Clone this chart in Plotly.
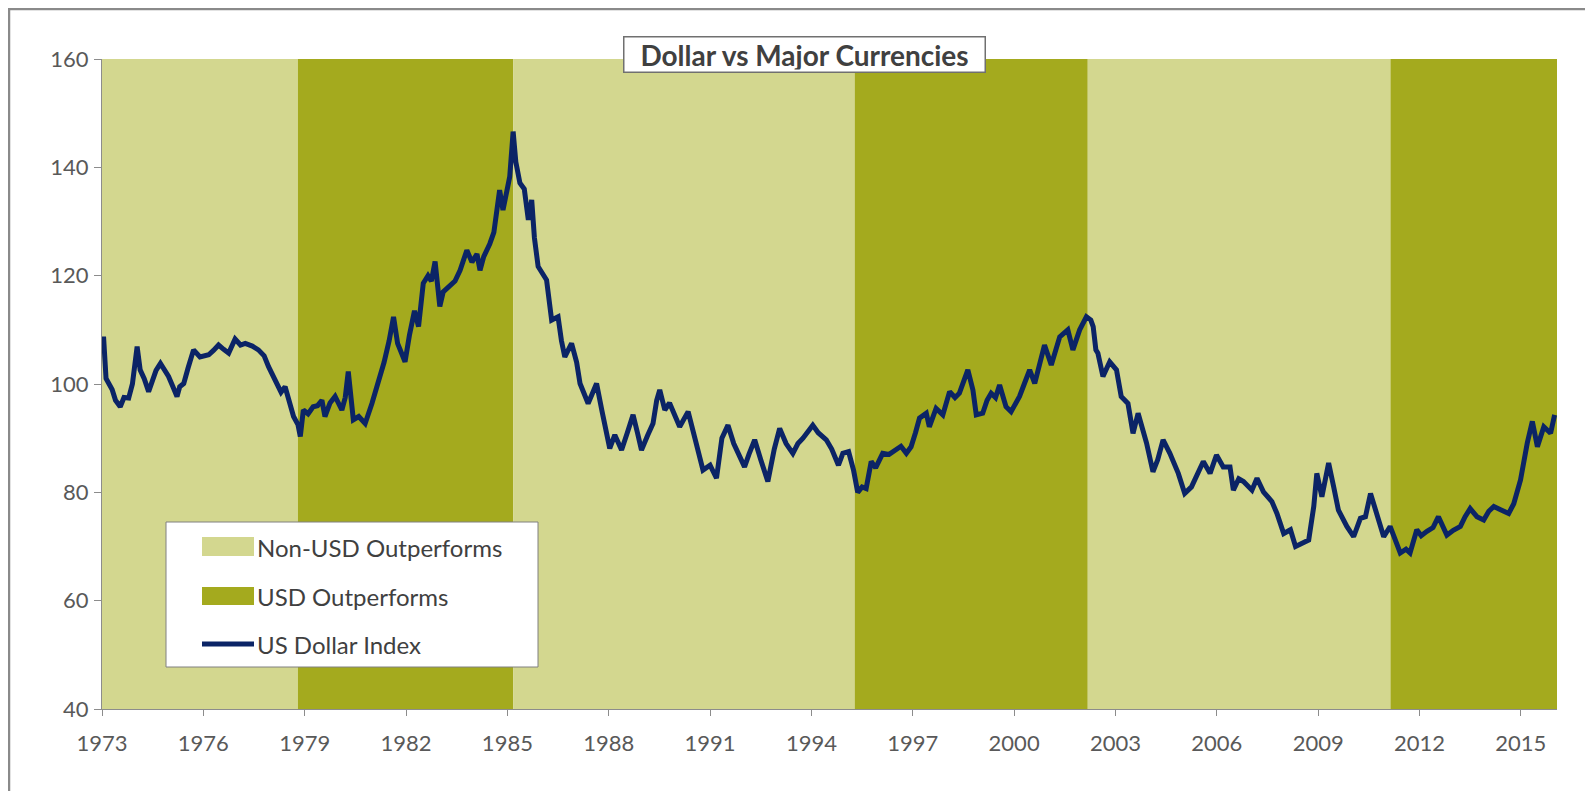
import plotly.graph_objects as go

# ---- data ----
band_start = [1973.0, 1978.8, 1985.17, 1995.28, 2002.18, 2011.14]
band_end = [1978.8, 1985.17, 1995.28, 2002.18, 2011.14, 2016.07]
band_kind = ["Non-USD Outperforms", "USD Outperforms", "Non-USD Outperforms",
             "USD Outperforms", "Non-USD Outperforms", "USD Outperforms"]

years = [1973.00, 1973.05, 1973.12, 1973.2, 1973.3, 1973.4, 1973.54, 1973.65, 1973.79, 1973.9,
         1974.04, 1974.13, 1974.25, 1974.38, 1974.5, 1974.6, 1974.73, 1974.85, 1974.97,
         1975.1, 1975.22, 1975.3, 1975.42, 1975.55, 1975.71, 1975.9,
         1976.16, 1976.3, 1976.45, 1976.6, 1976.75, 1976.94,
         1977.1, 1977.24, 1977.45, 1977.63, 1977.8, 1977.93,
         1978.05, 1978.18, 1978.3, 1978.42, 1978.55, 1978.67, 1978.8, 1978.87, 1978.96,
         1979.1, 1979.25, 1979.38, 1979.51, 1979.6, 1979.75, 1979.9,
         1980.1, 1980.2, 1980.29, 1980.44, 1980.6, 1980.79, 1980.99,
         1981.18, 1981.35, 1981.5, 1981.63, 1981.75, 1981.85, 1981.97,
         1982.1, 1982.25, 1982.37, 1982.45, 1982.51, 1982.65, 1982.75, 1982.86,
         1983.0, 1983.1, 1983.3, 1983.45, 1983.6, 1983.8, 1983.95,
         1984.1, 1984.19, 1984.3, 1984.48, 1984.6, 1984.77, 1984.87,
         1985.07, 1985.17, 1985.25, 1985.37, 1985.5, 1985.62, 1985.72, 1985.8, 1985.91,
         1986.05, 1986.16, 1986.31, 1986.5, 1986.6, 1986.7, 1986.9,
         1987.05, 1987.15, 1987.39, 1987.5, 1987.64, 1987.8,
         1988.03, 1988.18, 1988.38, 1988.55, 1988.72, 1988.85, 1988.97,
         1989.15, 1989.31, 1989.42, 1989.51, 1989.66, 1989.8,
         1990.1, 1990.35, 1990.55, 1990.79, 1991.0, 1991.19, 1991.35, 1991.53, 1991.7, 1991.85,
         1992.02, 1992.15, 1992.32, 1992.5, 1992.71, 1992.9,
         1993.06, 1993.25, 1993.45, 1993.6, 1993.75,
         1994.04, 1994.2, 1994.44, 1994.6, 1994.8, 1994.93,
         1995.1, 1995.25, 1995.37, 1995.5, 1995.62, 1995.77, 1995.9,
         1996.11, 1996.3, 1996.51, 1996.65, 1996.81, 1996.95,
         1997.08, 1997.2, 1997.4, 1997.49, 1997.69, 1997.89,
         1998.09, 1998.25, 1998.38, 1998.5, 1998.63, 1998.78, 1998.88,
         1999.07, 1999.2, 1999.32, 1999.45, 1999.57, 1999.76, 1999.91,
         2000.16, 2000.3, 2000.46, 2000.61, 2000.75, 2000.9,
         2001.1, 2001.25, 2001.35, 2001.59, 2001.74, 2001.94,
         2002.14, 2002.27, 2002.34, 2002.42, 2002.48, 2002.63, 2002.83,
         2003.03, 2003.17, 2003.37, 2003.52, 2003.67, 2003.92,
         2004.11, 2004.25, 2004.41, 2004.61, 2004.86,
         2005.05, 2005.25, 2005.45, 2005.6, 2005.8, 2005.99,
         2006.19, 2006.39, 2006.49, 2006.65, 2006.79,
         2007.04, 2007.19, 2007.38, 2007.63, 2007.78, 2007.98,
         2008.18, 2008.33, 2008.57, 2008.72, 2008.87, 2008.96,
         2009.11, 2009.2, 2009.31, 2009.46, 2009.6, 2009.85,
         2010.05, 2010.25, 2010.4, 2010.55, 2010.7, 2010.94,
         2011.13, 2011.3, 2011.43, 2011.6, 2011.72, 2011.92,
         2012.05, 2012.22, 2012.4, 2012.56, 2012.81,
         2013.0, 2013.21, 2013.35, 2013.5, 2013.7, 2013.9,
         2014.05, 2014.2, 2014.4, 2014.64, 2014.79, 2014.99,
         2015.19, 2015.34, 2015.49, 2015.68, 2015.88, 2016.0]

dollar_index = [108.3, 108.3, 101.0, 100.1, 99.0, 97.0, 95.8, 97.5, 97.4, 100.0,
                106.9, 102.6, 101.0, 98.6, 100.5, 102.5, 103.8, 102.5, 101.4,
                99.5, 97.7, 99.5, 100.1, 103.0, 106.3, 105.0,
                105.4, 106.2, 107.2, 106.4, 105.7, 108.3,
                107.2, 107.5, 107.0, 106.3, 105.2, 103.2,
                101.5, 100.1, 98.5, 99.5, 96.5, 94.0, 92.5, 90.3, 95.2,
                94.5, 95.8, 96.0, 97.0, 94.0, 96.5, 97.7,
                95.2, 97.5, 102.3, 93.4, 94.0, 92.7, 96.4,
                100.1, 104.0, 108.0, 112.4, 107.5, 106.0, 104.1,
                109.0, 113.5, 110.6, 115.0, 118.6, 120.0, 119.0, 122.6,
                114.3, 117.0, 118.0, 119.0, 121.0, 124.7, 122.5,
                124.0, 121.0, 123.5, 125.9, 128.0, 135.8, 132.1,
                138.3, 146.6, 141.0, 137.1, 136.0, 130.3, 134.0, 127.0, 121.7,
                120.5, 119.2, 111.8, 112.4, 108.0, 105.0, 107.5,
                104.0, 100.1, 96.4, 98.0, 100.1, 95.0,
                88.1, 90.6, 87.8, 91.0, 94.3, 91.0, 87.8,
                90.5, 92.7, 97.0, 98.9, 95.2, 96.5,
                92.1, 94.9, 90.0, 84.1, 85.0, 82.6, 90.0, 92.4, 89.0, 87.0,
                84.7, 87.0, 89.7, 86.0, 82.0, 88.0,
                91.8, 89.0, 87.2, 89.0, 90.0,
                92.4, 91.0, 89.7, 88.0, 85.0, 87.2,
                87.5, 84.0, 80.0, 81.0, 80.7, 85.7, 84.5,
                87.2, 87.0, 87.8, 88.5, 87.2, 88.4,
                91.0, 93.7, 94.6, 92.1, 95.5, 94.3,
                98.6, 97.5, 98.3, 100.5, 102.6, 98.9, 94.3,
                94.6, 97.0, 98.3, 97.5, 99.8, 95.8, 94.9,
                97.7, 100.0, 102.6, 100.1, 104.0, 107.2,
                103.5, 107.0, 108.7, 110.0, 106.3, 110.0,
                112.4, 111.8, 110.6, 106.3, 105.7, 101.4, 104.1,
                102.6, 97.7, 96.4, 90.9, 94.6, 89.1,
                83.8, 86.0, 89.7, 87.2, 83.5,
                79.8, 81.0, 83.5, 85.7, 83.5, 86.9,
                84.7, 84.7, 80.4, 82.5, 82.0,
                80.4, 82.6, 80.1, 78.3, 76.1, 72.4,
                73.1, 70.0, 70.9, 71.2, 77.4, 83.5,
                79.2, 82.0, 85.4, 81.0, 76.7, 73.7,
                71.8, 75.2, 75.5, 79.8, 76.7, 71.8,
                73.7, 71.0, 68.8, 69.5, 68.8, 73.1,
                72.0, 72.8, 73.5, 75.5, 72.1,
                73.0, 73.7, 75.5, 77.0, 75.5, 74.9,
                76.5, 77.4, 76.8, 76.1, 77.9, 82.3,
                89.1, 93.1, 88.4, 92.1, 90.9, 94.3]

x_ticks = [1973, 1976, 1979, 1982, 1985, 1988, 1991, 1994, 1997, 2000, 2003, 2006, 2009, 2012, 2015]
y_ticks = [40, 60, 80, 100, 120, 140, 160]

title_text = "Dollar vs Major Currencies"
legend_labels = ["Non-USD Outperforms", "USD Outperforms", "US Dollar Index"]

# ---- styles ----
LIGHT = "#D3D78F"
DARK = "#A4AA1E"
NAVY = "#0B2466"
FONT = "Lato"

OFF = 8  # page body margin
W, H = 1593 - OFF, 791 - OFF
# plot area in screen pixels
SL, SR, ST, SB = 102, 1557, 59, 709
L, T = SL - OFF, ST - OFF
R, B = W - (SR - OFF), H - (SB - OFF)
PW, PH = SR - SL, SB - ST


def px(xs):
    return (xs - SL) / PW


def py(ys):
    return (SB - ys) / PH


fig = go.Figure()

fig.add_trace(go.Scatter(x=years, y=dollar_index, mode="lines",
                         line=dict(color=NAVY, width=5),
                         name=legend_labels[2], showlegend=False))
# invisible companion trace so the tick-mark axis is active
fig.add_trace(go.Scatter(x=[years[0]], y=[dollar_index[0]], yaxis="y2", mode="markers",
                         marker=dict(opacity=0), showlegend=False, hoverinfo="skip"))

shapes = []
for s, e, k in zip(band_start, band_end, band_kind):
    shapes.append(dict(type="rect", xref="x", yref="y", x0=s, x1=e, y0=40, y1=160,
                       fillcolor=LIGHT if k == legend_labels[0] else DARK,
                       line=dict(width=0), layer="below"))

# outer frame (top and left edges visible)
shapes.append(dict(type="rect", xref="paper", yref="paper",
                   x0=px(9), x1=px(1700), y0=py(9), y1=py(900),
                   line=dict(color="#8a8a8a", width=2.5), fillcolor="rgba(0,0,0,0)", layer="above"))

# legend box
shapes.append(dict(type="rect", xref="paper", yref="paper",
                   x0=px(166), x1=px(538), y0=py(667), y1=py(522),
                   line=dict(color="#808080", width=1), fillcolor="white", layer="above"))
shapes.append(dict(type="rect", xref="paper", yref="paper",
                   x0=px(202), x1=px(254), y0=py(556), y1=py(537),
                   line=dict(width=0), fillcolor=LIGHT, layer="above"))
shapes.append(dict(type="rect", xref="paper", yref="paper",
                   x0=px(202), x1=px(254), y0=py(605), y1=py(587),
                   line=dict(width=0), fillcolor=DARK, layer="above"))
shapes.append(dict(type="line", xref="paper", yref="paper",
                   x0=px(202), x1=px(254), y0=py(644), y1=py(644),
                   line=dict(color=NAVY, width=5), layer="above"))

annotations = []
for lab, yc in zip(legend_labels, [547, 596, 644]):
    annotations.append(dict(xref="paper", yref="paper", x=px(255), y=py(yc),
                            xanchor="left", yanchor="middle", text=lab, showarrow=False,
                            font=dict(family=FONT, size=24, color="#404040")))

annotations.append(dict(xref="paper", yref="paper", x=px(804), y=py(54),
                        xanchor="center", yanchor="middle", text="<b>" + title_text + "</b>",
                        showarrow=False, bgcolor="white", bordercolor="#707070",
                        borderwidth=1.5, borderpad=2, width=356, height=30,
                        font=dict(family=FONT, size=28, color="#404040")))

fig.update_layout(
    width=W, height=H,
    margin=dict(l=L, r=R, t=T, b=B),
    paper_bgcolor="white", plot_bgcolor="white",
    showlegend=False,
    shapes=shapes, annotations=annotations,
    font=dict(family=FONT, color="#595959"),
    xaxis=dict(range=[1973, 2016.07], tickvals=x_ticks, ticktext=[str(v) for v in x_ticks],
               showgrid=False, zeroline=False, showline=True, linecolor="#8c8c8c", linewidth=1,
               ticks="outside", ticklen=6, tickcolor="#8c8c8c",
               tickfont=dict(family=FONT, size=22, color="#595959"), ticklabelstandoff=9),
    yaxis=dict(range=[40, 160], tickvals=y_ticks, showgrid=False, zeroline=False,
               showline=True, linecolor="#8c8c8c", linewidth=1, ticks="",
               tickfont=dict(family=FONT, size=22, color="#595959"), ticklabelstandoff=8),
    yaxis2=dict(range=[40, 160], tickvals=y_ticks, overlaying="y", side="left",
                showgrid=False, zeroline=False, showline=False, showticklabels=False,
                ticks="outside", ticklen=7, tickcolor="#8c8c8c"),
)

fig.write_html("out.html")
